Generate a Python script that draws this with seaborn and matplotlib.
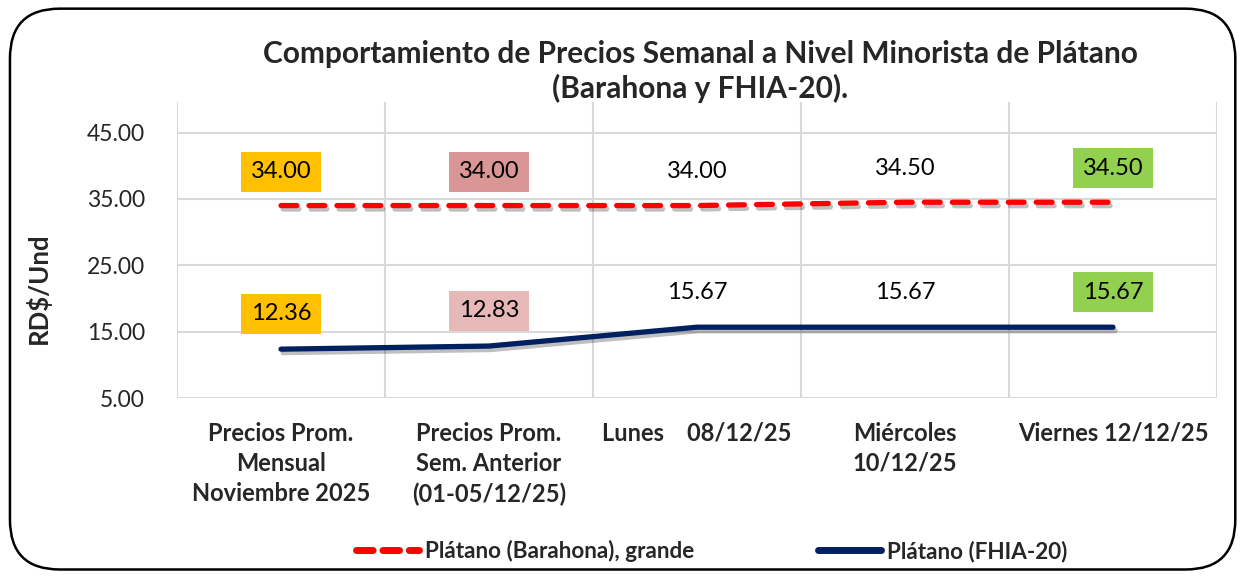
import numpy as np
import pandas as pd
import matplotlib
matplotlib.use('Agg')
import matplotlib.pyplot as plt
import matplotlib.patheffects as pe
from matplotlib.patches import FancyBboxPatch
from matplotlib.lines import Line2D
import seaborn as sns

sns.set_style('white')
plt.rcParams['font.family'] = ['Lato', 'DejaVu Sans']

categories = [
    'Precios Prom.\nMensual\nNoviembre 2025',
    'Precios Prom.\nSem. Anterior\n(01-05/12/25)',
    'Lunes    08/12/25',
    'Miércoles\n10/12/25',
    'Viernes 12/12/25',
]
barahona = [34.00, 34.00, 34.00, 34.50, 34.50]
fhia = [12.36, 12.83, 15.67, 15.67, 15.67]
barahona_boxes = ['#FFC000', '#DA9694', None, None, '#92D050']
fhia_boxes = ['#FFC000', '#E6B8B7', None, None, '#92D050']
yticks = [5, 15, 25, 35, 45]

title = 'Comportamiento de Precios Semanal a Nivel Minorista de Plátano\n(Barahona y FHIA-20).'
name_bar = 'Plátano (Barahona), grande'
name_fhia = 'Plátano (FHIA-20)'

df = pd.DataFrame({
    'pos': list(range(len(categories))) * 2,
    'price': barahona + fhia,
    'serie': [name_bar] * len(categories) + [name_fhia] * len(categories),
})

fig = plt.figure(figsize=(12.44, 5.77), dpi=100)
ax = fig.add_axes([0.1423, 0.3102, 0.836, 0.513])

shadow = [pe.SimpleLineShadow(offset=(1.5, -2.5), alpha=0.25, shadow_color='black'), pe.Normal()]

sns.lineplot(data=df[df['serie'] == name_bar], x='pos', y='price', ax=ax,
             color='#FF0000', lw=3.8, legend=False)
sns.lineplot(data=df[df['serie'] == name_fhia], x='pos', y='price', ax=ax,
             color='#002060', lw=3.8, legend=False)
l_bar, l_fhia = ax.get_lines()[:2]
l_bar.set_dashes((3, 2.3))
l_bar.set_dash_capstyle('round')
l_fhia.set_solid_capstyle('round')
for ln in (l_bar, l_fhia):
    ln.set_path_effects(shadow)

ax.set_xlim(-0.5, len(categories) - 0.5)
ax.set_ylim(5, 49.6)
ax.set_yticks(yticks)
ax.set_yticklabels(['{:.2f}'.format(v) for v in yticks], fontsize=16.5)
ax.set_xticks(np.arange(len(categories)))
ax.set_xticklabels(categories, fontsize=17, fontweight='bold', linespacing=1.38, va='top')
ax.tick_params(axis='x', pad=17, length=0)
ax.tick_params(axis='y', pad=23, length=0)
for b in np.arange(-0.5, len(categories), 1.0):
    ax.axvline(b, color='#D9D9D9', lw=1.5, zorder=0)
for y in yticks:
    ax.axhline(y, color='#D9D9D9', lw=1.5, zorder=0)
for s in ax.spines.values():
    s.set_visible(False)
ax.set_xlabel('')
ax.set_ylabel('RD$/Und', fontsize=18.5, fontweight='bold')
ax.yaxis.set_label_coords(-0.121, 0.372)

def label_points(values, boxes, dy):
    for i, (v, c) in enumerate(zip(values, boxes)):
        kw = dict(ha='center', va='center', fontsize=17, color='black')
        if c is not None:
            kw['bbox'] = dict(boxstyle='square,pad=0.4', fc=c, ec='none')
        ax.text(i, v + dy, '{:.2f}'.format(v), **kw)

label_points(barahona, barahona_boxes, 5.1)
label_points(fhia, fhia_boxes, 5.3)

fig.text(0.563, 0.876, title, ha='center', va='center', fontsize=21.5,
         fontweight='bold', linespacing=1.25)

handles = [
    Line2D([], [], color='#FF0000', lw=5, dashes=(2.4, 1.4), dash_capstyle='round'),
    Line2D([], [], color='#002060', lw=5, solid_capstyle='round'),
]
fig.legend(handles, [name_bar, name_fhia], loc='center', bbox_to_anchor=(0.572, 0.045),
           ncol=2, frameon=False, handlelength=2.8, handletextpad=0.25, columnspacing=5.5,
           prop={'weight': 'bold', 'size': 16.2})

border = FancyBboxPatch((0.008, 0.013), 0.985, 0.972, boxstyle='round,pad=0,rounding_size=0.04',
                        transform=fig.transFigure, fc='none', ec='black', lw=1.8,
                        mutation_aspect=1244 / 577)
fig.patches.append(border)

fig.savefig('out.png', dpi=100)
